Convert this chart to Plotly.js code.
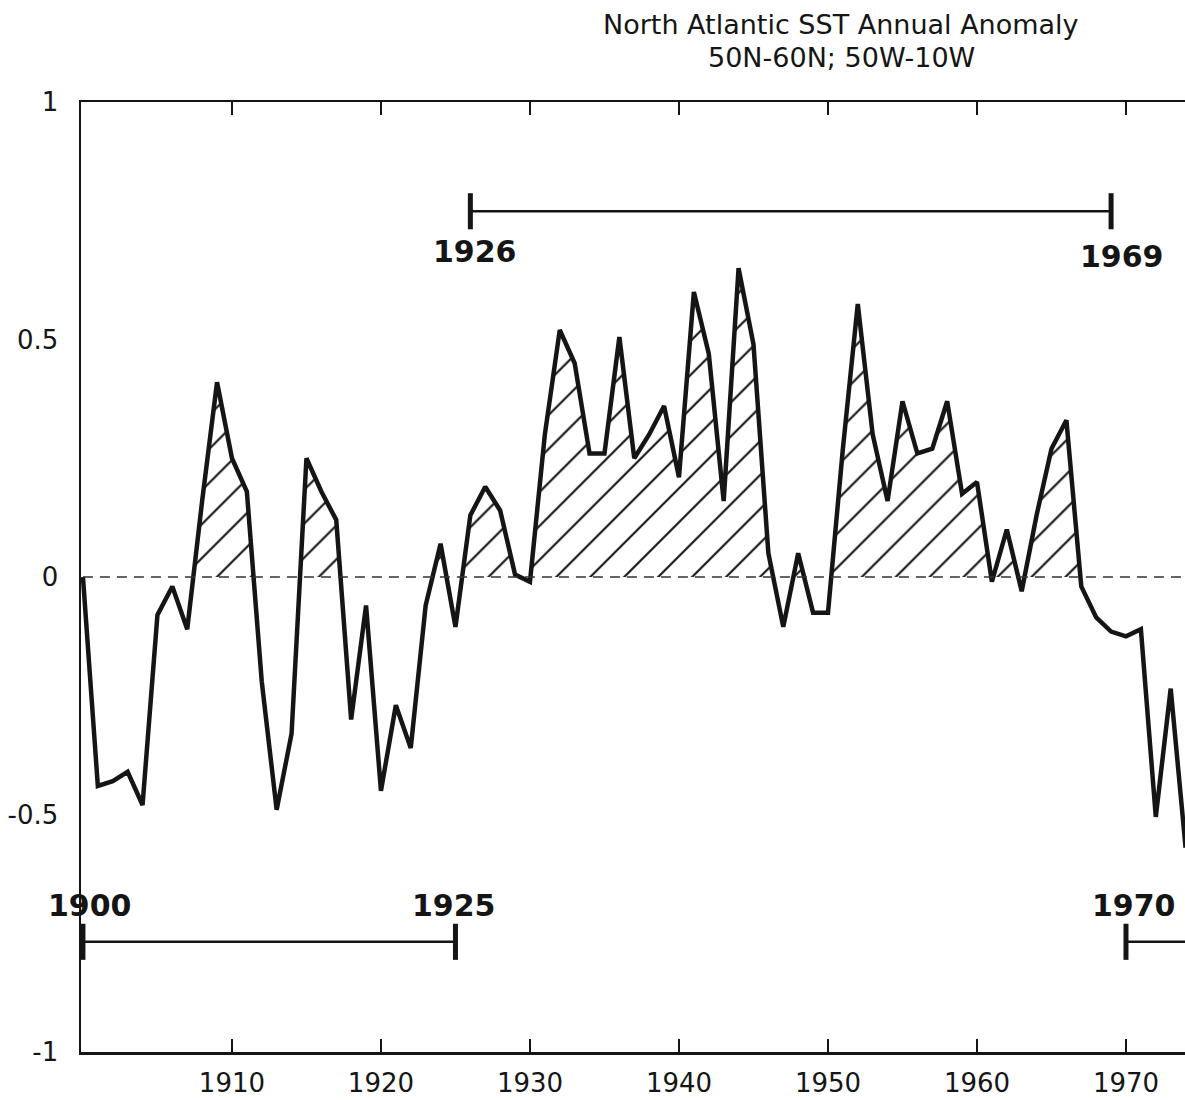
<!DOCTYPE html>
<html><head><meta charset="utf-8">
<script src="https://cdn.plot.ly/plotly-3.0.1.min.js"></script>
<style>html,body{margin:0;padding:0;background:#fff}</style>
</head><body><div id="chart" style="width:1185px;height:1100px"></div>
<script>
// ---- data ----
const years = [1900,1901,1902,1903,1904,1905,1906,1907,1908,1909,
  1910,1911,1912,1913,1914,1915,1916,1917,1918,1919,
  1920,1921,1922,1923,1924,1925,1926,1927,1928,1929,
  1930,1931,1932,1933,1934,1935,1936,1937,1938,1939,
  1940,1941,1942,1943,1944,1945,1946,1947,1948,1949,
  1950,1951,1952,1953,1954,1955,1956,1957,1958,1959,
  1960,1961,1962,1963,1964,1965,1966,1967,1968,1969,
  1970,1971,1972,1973,1974];
const anomaly = [0.00,-0.44,-0.43,-0.41,-0.48,-0.08,-0.02,-0.11,0.16,0.41,
  0.25,0.18,-0.22,-0.49,-0.33,0.25,0.18,0.12,-0.30,-0.06,
  -0.45,-0.27,-0.36,-0.06,0.07,-0.105,0.13,0.19,0.14,0.005,
  -0.01,0.30,0.52,0.45,0.26,0.26,0.505,0.25,0.30,0.36,
  0.21,0.60,0.47,0.16,0.65,0.49,0.05,-0.105,0.05,-0.075,
  -0.075,0.27,0.575,0.30,0.16,0.37,0.26,0.27,0.37,0.175,
  0.20,-0.01,0.10,-0.03,0.13,0.27,0.33,-0.02,-0.085,-0.115,
  -0.125,-0.11,-0.505,-0.235,-0.57];
const xTickValues = [1910,1920,1930,1940,1950,1960,1970];
const xTickLabels = ['1910','1920','1930','1940','1950','1960','1970'];
const yTickValues = [-1,-0.5,0,0.5,1];
const yTickLabels = ['-1','-0.5','0','0.5','1'];
const periodStart = [1900,1926,1970];
const periodEnd = [1925,1969,null];
const periodStartLabel = ['1900','1926','1970'];
const periodEndLabel = ['1925','1969',null];
const titleLines = ['North Atlantic SST Annual Anomaly','50N-60N; 50W-10W'];

// ---- styles / positions ----
const FONT = 'DejaVu Sans';
const INK = '#151515';
const xRange = [1899.87, 1973.96];
const bracketLevel = [-0.768, 0.770, -0.768];
const labelAbove = [true, false, true];
const startShift = [7, 5, 8];
const endShift = [-1, 11, 0];
const tickHalf = 0.038;
const titleShift = [78, 45];

const traces = [
  { // hatched positive area (clipped to upper half subplot)
    x: years, y: anomaly, xaxis: 'x', yaxis: 'y2', type: 'scatter', mode: 'lines',
    line: {width: 0, color: INK}, fill: 'tozeroy', fillcolor: 'rgba(255,255,255,0)',
    fillpattern: {shape: '/', size: 24, solidity: 0.09, fgcolor: INK, bgcolor: 'rgba(255,255,255,0)', fgopacity: 1},
    hoverinfo: 'skip', showlegend: false
  },
  {
    x: years, y: anomaly, xaxis: 'x', yaxis: 'y', type: 'scatter', mode: 'lines',
    line: {width: 4.5, color: INK}, showlegend: false
  }
];

const shapes = [{
  type: 'line', xref: 'x', yref: 'y', x0: 1900, x1: xRange[1], y0: 0, y1: 0,
  line: {color: '#333', width: 1.3, dash: '10px,7px'}
}];
const annotations = [];
titleLines.forEach((t, i) => {
  annotations.push({x: (841 - 81) / 1104, y: 1, xref: 'paper', yref: 'paper', text: t, showarrow: false,
    xanchor: 'center', yanchor: 'middle', yshift: titleShift[i], font: {family: FONT, size: 27, color: INK}});
});
periodStart.forEach((s, i) => {
  const e = periodEnd[i] === null ? xRange[1] + 1 : periodEnd[i];
  const lv = bracketLevel[i];
  shapes.push({type: 'line', xref: 'x', yref: 'y', x0: s, x1: e, y0: lv, y1: lv, line: {color: INK, width: 2.5}});
  shapes.push({type: 'line', xref: 'x', yref: 'y', x0: s, x1: s, y0: lv - tickHalf, y1: lv + tickHalf, line: {color: INK, width: 5}});
  if (periodEnd[i] !== null) {
    shapes.push({type: 'line', xref: 'x', yref: 'y', x0: e, x1: e, y0: lv - tickHalf, y1: lv + tickHalf, line: {color: INK, width: 5}});
  }
  const ys = labelAbove[i] ? 36 : -40;
  annotations.push({x: s, y: lv, xref: 'x', yref: 'y', text: '<b>' + periodStartLabel[i] + '</b>', showarrow: false,
    xshift: startShift[i], yshift: ys, font: {family: FONT, size: 30, color: INK}});
  if (periodEndLabel[i] !== null) {
    annotations.push({x: e, y: lv, xref: 'x', yref: 'y', text: '<b>' + periodEndLabel[i] + '</b>', showarrow: false,
      xshift: endShift[i], yshift: (i === 1 ? ys - 5 : ys), font: {family: FONT, size: 30, color: INK}});
  }
});

const layout = {
  width: 1185, height: 1100,
  margin: {l: 81, r: 0, t: 102, b: 48},
  paper_bgcolor: '#ffffff', plot_bgcolor: 'rgba(0,0,0,0)',
  showlegend: false,
  font: {family: FONT, color: INK},
  xaxis: {range: xRange, showline: true, linewidth: 2.5, linecolor: INK, mirror: 'ticks',
    ticks: 'inside', ticklen: 13, tickwidth: 2, tickcolor: INK,
    tickmode: 'array', tickvals: xTickValues, ticktext: xTickLabels,
    tickfont: {family: FONT, size: 26, color: INK}, ticklabelstandoff: 6,
    showgrid: false, zeroline: false, fixedrange: true},
  yaxis: {range: [-1, 1], domain: [0, 1], showline: true, linewidth: 2.5, linecolor: INK, mirror: false,
    ticks: '', tickmode: 'array', tickvals: yTickValues, ticktext: yTickLabels,
    tickfont: {family: FONT, size: 26, color: INK}, ticklabelstandoff: 15,
    showgrid: false, zeroline: false, fixedrange: true},
  yaxis2: {domain: [0.5, 1], range: [0, 1], anchor: 'x', visible: false, showgrid: false, zeroline: false, fixedrange: true},
  shapes: shapes,
  annotations: annotations
};

Plotly.newPlot('chart', traces, layout, {displayModeBar: false, staticPlot: true});
</script>
</body></html>
